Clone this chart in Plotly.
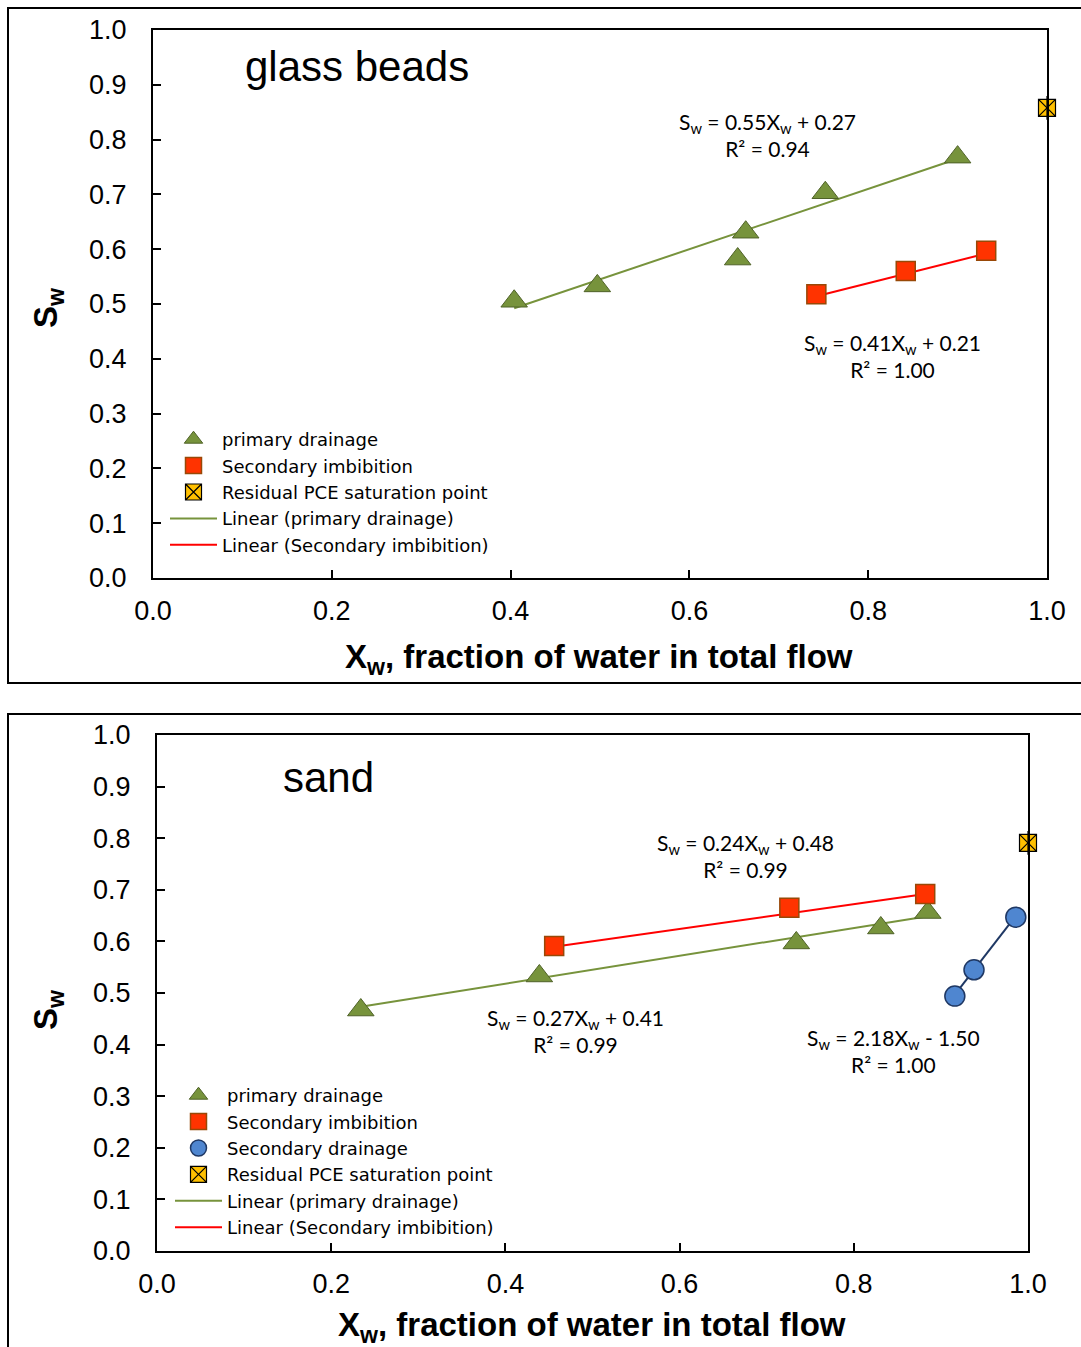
import numpy as np
import plotly.graph_objects as go

W, H = 1081, 1347

# ---------------- data: glass beads ----------------
gb_pd_x = [0.404, 0.497, 0.654, 0.663, 0.752, 0.900]
gb_pd_y = [0.505, 0.533, 0.582, 0.631, 0.703, 0.768]
gb_si_x = [0.742, 0.842, 0.932]
gb_si_y = [0.518, 0.560, 0.597]
gb_res_x = [1.0]
gb_res_y = [0.858]
gb_pd_fit = [0.55, 0.27]
gb_si_fit = [0.41, 0.21]

# ---------------- data: sand ----------------
sd_pd_x = [0.234, 0.439, 0.734, 0.831, 0.885]
sd_pd_y = [0.467, 0.533, 0.597, 0.626, 0.656]
sd_si_x = [0.456, 0.726, 0.882]
sd_si_y = [0.591, 0.665, 0.692]
sd_sd_x = [0.916, 0.938, 0.986]
sd_sd_y = [0.494, 0.545, 0.647]
sd_res_x = [1.0]
sd_res_y = [0.791]
sd_pd_fit = [0.27, 0.41]
sd_si_fit = [0.24, 0.48]
sd_sd_fit = [2.18, -1.50]

tick_vals = [0, 0.2, 0.4, 0.6, 0.8, 1.0]
tick_text = ["0.0", "0.2", "0.4", "0.6", "0.8", "1.0"]
ytick_vals = [0, 0.1, 0.2, 0.3, 0.4, 0.5, 0.6, 0.7, 0.8, 0.9, 1.0]
ytick_text = ["%.1f" % v for v in ytick_vals]

GREEN = "#77933C"; GREEN_D = "#4F6228"
RED = "#FF3300"; RED_D = "#984807"
BLUE = "#4F86D0"; NAVY = "#1F3864"
YEL = "#FFC000"
CAL = "Lato, 'Open Sans', sans-serif"
LEGF = "'DejaVu Sans', sans-serif"
ARIAL = "'Liberation Sans', Arial, sans-serif"


def fit_line(xs, coef):
    xx = np.array([min(xs), max(xs)])
    return xx, coef[0] * xx + coef[1]


fig = go.Figure()


def add_panel(xa, ya, leg, pd, si, res, pd_fit, si_fit, sdr=None, sd_fit=None):
    lx, ly = fit_line(pd[0], pd_fit)
    fig.add_trace(go.Scatter(x=lx, y=ly, mode="lines", line=dict(color=GREEN, width=2),
                             name="Linear (primary drainage)", xaxis=xa, yaxis=ya,
                             legend=leg, legendrank=50))
    lx, ly = fit_line(si[0], si_fit)
    fig.add_trace(go.Scatter(x=lx, y=ly, mode="lines", line=dict(color="#FF0000", width=2),
                             name="Linear (Secondary imbibition)", xaxis=xa, yaxis=ya,
                             legend=leg, legendrank=60))
    if sdr is not None:
        lx, ly = fit_line(sdr[0], sd_fit)
        fig.add_trace(go.Scatter(x=lx, y=ly, mode="lines", line=dict(color=NAVY, width=2),
                                 name="Linear (Secondary drainage)", xaxis=xa, yaxis=ya,
                                 showlegend=False))
    fig.add_trace(go.Scatter(x=pd[0], y=pd[1], mode="markers", name="primary drainage",
                             marker=dict(symbol="triangle-up", size=23, color=GREEN,
                                         line=dict(color=GREEN_D, width=1)),
                             xaxis=xa, yaxis=ya, legend=leg, legendrank=10))
    fig.add_trace(go.Scatter(x=si[0], y=si[1], mode="markers", name="Secondary imbibition",
                             marker=dict(symbol="square", size=19, color=RED,
                                         line=dict(color=RED_D, width=1.5)),
                             xaxis=xa, yaxis=ya, legend=leg, legendrank=20))
    if sdr is not None:
        fig.add_trace(go.Scatter(x=sdr[0], y=sdr[1], mode="markers", name="Secondary drainage",
                                 marker=dict(symbol="circle", size=20, color=BLUE,
                                             line=dict(color=NAVY, width=1.5)),
                                 xaxis=xa, yaxis=ya, legend=leg, legendrank=30))
    fig.add_trace(go.Scatter(x=res[0], y=res[1], mode="markers", cliponaxis=False,
                             name="Residual PCE saturation point",
                             marker=dict(symbol="square-x", size=17, color=YEL,
                                         line=dict(color="black", width=1.2)),
                             xaxis=xa, yaxis=ya, legend=leg, legendrank=40))
    fig.add_trace(go.Scatter(x=res[0], y=res[1], mode="markers", showlegend=False,
                             cliponaxis=False,
                             marker=dict(symbol="line-ns", size=17, color="black",
                                         line=dict(color="black", width=1.2)),
                             xaxis=xa, yaxis=ya, hoverinfo="skip"))


add_panel("x", "y", "legend", (gb_pd_x, gb_pd_y), (gb_si_x, gb_si_y), (gb_res_x, gb_res_y),
          gb_pd_fit, gb_si_fit)
add_panel("x2", "y2", "legend2", (sd_pd_x, sd_pd_y), (sd_si_x, sd_si_y), (sd_res_x, sd_res_y),
          sd_pd_fit, sd_si_fit, (sd_sd_x, sd_sd_y), sd_sd_fit)


def px(v):
    return v / W


def py(v):
    return 1 - v / H


axis_common = dict(range=[0, 1], showgrid=False, zeroline=False, showline=True,
                   linecolor="black", linewidth=2, mirror=True, ticks="inside",
                   ticklen=8, tickwidth=1.5, tickcolor="black", automargin=False,
                   tickfont=dict(family=ARIAL, size=27, color="black"))

fig.update_layout(
    width=W, height=H, margin=dict(l=0, r=0, t=0, b=0, autoexpand=False),
    paper_bgcolor="white", plot_bgcolor="white", showlegend=True,
    xaxis=dict(axis_common, domain=[px(153), px(1047)], anchor="y",
               tickvals=tick_vals, ticktext=tick_text, ticklabelstandoff=8),
    yaxis=dict(axis_common, domain=[py(578), py(30)], anchor="x",
               tickvals=ytick_vals, ticktext=ytick_text, ticklabelstandoff=19),
    xaxis2=dict(axis_common, domain=[px(157), px(1028)], anchor="y2",
                tickvals=tick_vals, ticktext=tick_text, ticklabelstandoff=8),
    yaxis2=dict(axis_common, domain=[py(1251), py(735)], anchor="x2",
                tickvals=ytick_vals, ticktext=ytick_text, ticklabelstandoff=19),
    legend=dict(x=px(165), y=py(421), xanchor="left", yanchor="top", bgcolor="rgba(0,0,0,0)",
                font=dict(family=LEGF, size=18, color="black"), itemwidth=47,
                tracegroupgap=0),
    legend2=dict(x=px(170), y=py(1077), xanchor="left", yanchor="top", bgcolor="rgba(0,0,0,0)",
                 font=dict(family=LEGF, size=18, color="black"), itemwidth=47,
                 tracegroupgap=0),
)

# outer panel frames
fig.add_shape(type="rect", xref="paper", yref="paper", x0=px(8), x1=px(1100),
              y0=py(683), y1=py(8), line=dict(color="black", width=2), layer="below")
fig.add_shape(type="rect", xref="paper", yref="paper", x0=px(8), x1=px(1100),
              y0=py(1370), y1=py(714), line=dict(color="black", width=2), layer="below")

ann_font = dict(family=CAL, size=21, color="black")
title_font = dict(family=ARIAL, size=42, color="black")
axt_font = dict(family=ARIAL, size=33, color="black")
xtitle = "<b>X<sub>w</sub>, fraction of water in total flow</b>"
ytitle = "<b>S<sub>w</sub></b>"
anns = [
    dict(text="glass beads", x=0.228, y=0.934, xref="x", yref="y", font=title_font),
    dict(text="S<sub>w</sub> = 0.55X<sub>w</sub> + 0.27<br>R² = 0.94", x=0.687, y=0.809,
         xref="x", yref="y", font=ann_font),
    dict(text="S<sub>w</sub> = 0.41X<sub>w</sub> + 0.21<br>R² = 1.00", x=0.827, y=0.406,
         xref="x", yref="y", font=ann_font),
    dict(text="sand", x=0.197, y=0.917, xref="x2", yref="y2", font=title_font),
    dict(text="S<sub>w</sub> = 0.24X<sub>w</sub> + 0.48<br>R² = 0.99", x=0.676, y=0.765,
         xref="x2", yref="y2", font=ann_font),
    dict(text="S<sub>w</sub> = 0.27X<sub>w</sub> + 0.41<br>R² = 0.99", x=0.481, y=0.427,
         xref="x2", yref="y2", font=ann_font),
    dict(text="S<sub>w</sub> = 2.18X<sub>w</sub> - 1.50<br>R² = 1.00", x=0.845, y=0.387,
         xref="x2", yref="y2", font=ann_font),
    # axis titles
    dict(text=xtitle, x=px(599), y=py(659), xref="paper", yref="paper", font=axt_font),
    dict(text=ytitle, x=px(48), y=py(308), xref="paper", yref="paper", font=axt_font,
         textangle=-90),
    dict(text=xtitle, x=px(592), y=py(1327), xref="paper", yref="paper", font=axt_font),
    dict(text=ytitle, x=px(48), y=py(1010), xref="paper", yref="paper", font=axt_font,
         textangle=-90),
]
for a in anns:
    fig.add_annotation(showarrow=False, align="center", xanchor="center", yanchor="middle", **a)

fig.write_html("out.html", config={"displayModeBar": False},
               post_script="document.body.style.margin='0';")
